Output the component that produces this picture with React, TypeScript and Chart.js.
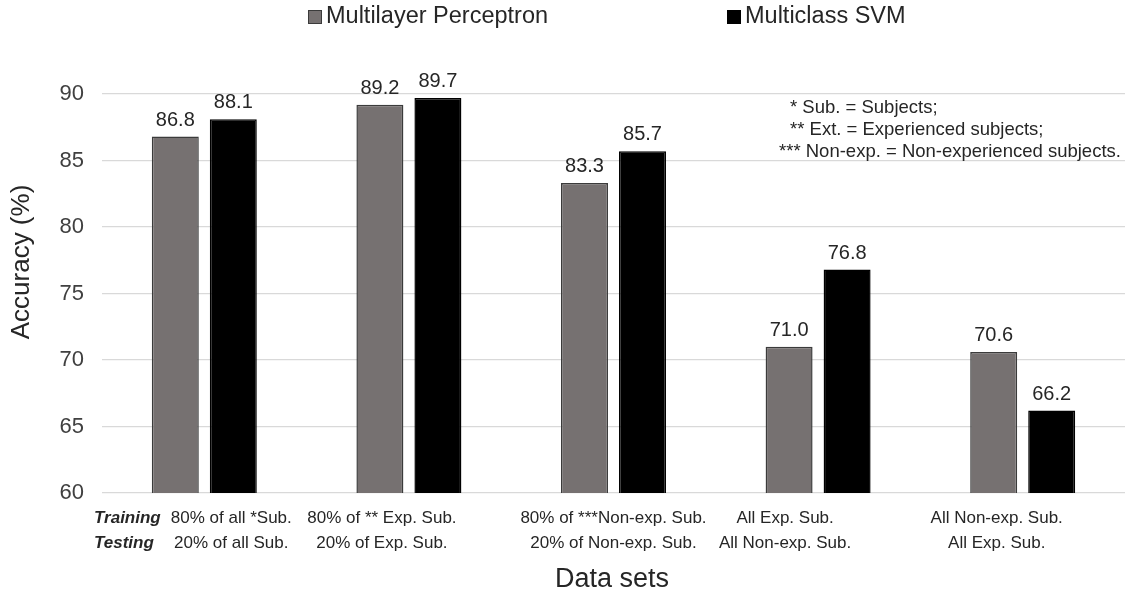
import { useEffect, useRef } from "react";
import { Chart, registerables } from "chart.js";

Chart.register(...registerables);

// Data sets: training / testing split for each group of bars
const TRAINING_LABELS = [
  "80% of all *Sub.",
  "80% of ** Exp. Sub.",
  "80% of ***Non-exp. Sub.",
  "All Exp. Sub.",
  "All Non-exp. Sub.",
];
const TESTING_LABELS = [
  "20% of all Sub.",
  "20% of Exp. Sub.",
  "20% of Non-exp. Sub.",
  "All Non-exp. Sub.",
  "All Exp. Sub.",
];
const ROW_HEADINGS = ["Training", "Testing"];

const SERIES_NAMES = ["Multilayer Perceptron", "Multiclass SVM"];
const MLP_ACCURACY = [86.8, 89.2, 83.3, 71.0, 70.6];
const SVM_ACCURACY = [88.1, 89.7, 85.7, 76.8, 66.2];

const Y_MIN = 60;
const Y_MAX = 90;
const Y_STEP = 5;

const NOTES = [
  "* Sub. = Subjects;",
  "** Ext. = Experienced subjects;",
  "*** Non-exp. = Non-experienced subjects.",
];

const FONT = "'Liberation Sans', Arial, sans-serif";
const TEXT = "#262626";
const MLP_FILL = "#767171";
const MLP_EDGE = "#3b3b3b";
const SVM_FILL = "#000000";

// horizontal nudges of the two-line category captions relative to the group centre
const CAPTION_SHIFT = [27, -27, 0, -33, -26];

const overlay = {
  id: "overlay",
  afterDraw(chart: any) {
    const ctx = chart.ctx as CanvasRenderingContext2D;
    const xs = chart.scales.x;
    const area = chart.chartArea;
    ctx.save();

    // value labels on top of each bar
    ctx.font = `20px ${FONT}`;
    ctx.fillStyle = TEXT;
    ctx.textAlign = "center";
    ctx.textBaseline = "alphabetic";
    chart.data.datasets.forEach((ds: any, di: number) => {
      const meta = chart.getDatasetMeta(di);
      meta.data.forEach((bar: any, i: number) => {
        ctx.fillText(Number(ds.data[i]).toFixed(1), bar.x, bar.y - 11);
      });
    });

    // legend
    const legendX = [308, 727];
    chart.data.datasets.forEach((ds: any, di: number) => {
      const x = legendX[di];
      ctx.fillStyle = ds.backgroundColor;
      ctx.fillRect(x, 10, 14, 14);
      ctx.strokeStyle = di === 0 ? MLP_EDGE : SVM_FILL;
      ctx.lineWidth = 1;
      ctx.strokeRect(x + 0.5, 10.5, 13, 13);
      ctx.fillStyle = TEXT;
      ctx.font = `23.5px ${FONT}`;
      ctx.textAlign = "left";
      ctx.textBaseline = "middle";
      ctx.fillText(ds.label, x + 18, 17);
    });

    // category captions, two rows
    ctx.font = `17px ${FONT}`;
    ctx.fillStyle = TEXT;
    ctx.textAlign = "center";
    ctx.textBaseline = "middle";
    const rowY = [area.bottom + 25, area.bottom + 50];
    TRAINING_LABELS.forEach((lab, i) => {
      const cx = xs.getPixelForValue(i) + CAPTION_SHIFT[i];
      ctx.fillText(lab, cx, rowY[0]);
      ctx.fillText(TESTING_LABELS[i], cx, rowY[1]);
    });
    ctx.font = `italic bold 17px ${FONT}`;
    ctx.textAlign = "left";
    ROW_HEADINGS.forEach((h, r) => ctx.fillText(h, 94, rowY[r]));

    // axis titles
    ctx.font = `27px ${FONT}`;
    ctx.textAlign = "center";
    ctx.textBaseline = "middle";
    ctx.fillText("Data sets", 612, 580);
    ctx.save();
    ctx.translate(22, 262);
    ctx.rotate(-Math.PI / 2);
    ctx.font = `26px ${FONT}`;
    ctx.fillText("Accuracy (%)", 0, 0);
    ctx.restore();

    // abbreviations note
    ctx.font = `18.5px ${FONT}`;
    ctx.textAlign = "left";
    ctx.textBaseline = "middle";
    NOTES.forEach((n, i) => {
      const indent = i === 2 ? 779 : 790;
      ctx.fillText(n, indent, 108 + i * 22);
    });

    ctx.restore();
  },
};

export default function App() {
  const ref = useRef<HTMLCanvasElement | null>(null);

  useEffect(() => {
    document.body.style.margin = "0";
    const canvas = ref.current;
    if (!canvas) return;
    const chart = new Chart(canvas, {
      type: "bar",
      data: {
        labels: TRAINING_LABELS,
        datasets: [
          {
            label: SERIES_NAMES[0],
            data: MLP_ACCURACY,
            backgroundColor: MLP_FILL,
            borderColor: MLP_EDGE,
            borderWidth: 1.5,
            categoryPercentage: 0.567,
            barPercentage: 0.81,
          },
          {
            label: SERIES_NAMES[1],
            data: SVM_ACCURACY,
            backgroundColor: SVM_FILL,
            borderColor: SVM_FILL,
            borderWidth: 1.5,
            categoryPercentage: 0.567,
            barPercentage: 0.81,
          },
        ],
      },
      options: {
        responsive: false,
        animation: false,
        layout: { padding: { top: 94, right: 2, left: 0, bottom: 0 } },
        plugins: {
          legend: { display: false },
          tooltip: { enabled: false },
        },
        scales: {
          x: {
            grid: { display: false },
            border: { display: false },
            ticks: { display: false },
            afterFit(s: any) {
              s.height = 101;
            },
          },
          y: {
            min: Y_MIN,
            max: Y_MAX,
            ticks: {
              stepSize: Y_STEP,
              padding: 18,
              color: "#404040",
              font: { size: 22, family: FONT },
            },
            grid: { color: "#d9d9d9", lineWidth: 1.3, drawTicks: false },
            border: { display: false },
            afterFit(s: any) {
              s.width = 102;
            },
          },
        },
      },
      plugins: [overlay],
    });
    return () => chart.destroy();
  }, []);

  return (
    <div style={{ position: "fixed", left: 0, top: 0, width: 1127, height: 594, background: "#fff" }}>
      <canvas ref={ref} width={1127} height={594} />
    </div>
  );
}
